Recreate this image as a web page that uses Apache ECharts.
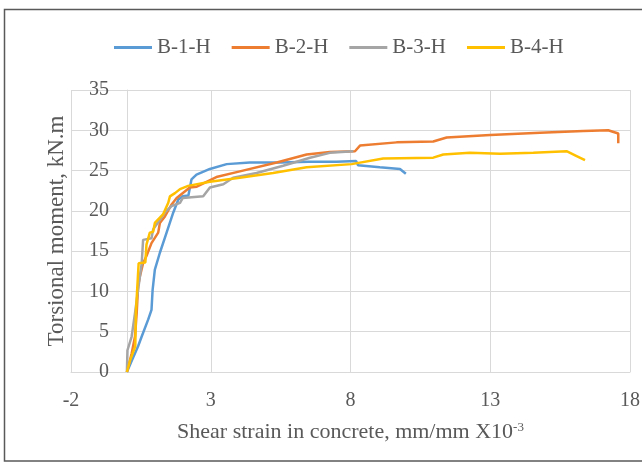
<!DOCTYPE html>
<html>
<head>
<meta charset="utf-8">
<script src="https://cdn.jsdelivr.net/npm/echarts@6/dist/echarts.min.js"></script>
<style>html,body{margin:0;padding:0;background:#fff;}#chart{width:642px;height:464px;}</style>
</head>
<body>
<div id="chart"></div>
<script>
var seriesNames = ['B-1-H', 'B-2-H', 'B-3-H', 'B-4-H'];
var xTickLabels = ['-2', '3', '8', '13', '18'];
var yTickLabels = ['0', '5', '10', '15', '20', '25', '30', '35'];

var b1X = [0, 0.2, 0.4, 0.53, 0.76, 0.88, 0.92, 1.0, 1.18, 1.42, 1.66, 1.84, 2.0, 2.2, 2.31, 2.49, 2.97, 3.57, 4.4, 5.5, 6.5, 7.5, 8.2, 8.27, 9.05, 9.77, 9.98];
var b1Y = [0, 1.6, 3.2, 4.4, 6.5, 7.7, 10.2, 12.7, 14.8, 17.3, 19.8, 21.4, 21.8, 21.9, 23.9, 24.5, 25.2, 25.8, 26.0, 26.0, 26.1, 26.1, 26.2, 25.65, 25.4, 25.2, 24.6];

var b2X = [0, 0.17, 0.29, 0.35, 0.4, 0.46, 0.58, 0.7, 0.88, 1.12, 1.18, 1.36, 1.6, 1.78, 2.25, 2.5, 3.2, 4.04, 5.36, 6.43, 7.26, 8.16, 8.34, 9.65, 10.96, 11.44, 13.0, 14.78, 16.33, 17.22, 17.58, 17.58];
var b2Y = [0, 2.3, 4.4, 7.3, 10.6, 11.8, 13.5, 14.4, 16.0, 17.3, 18.5, 19.3, 20.8, 21.6, 22.9, 23.0, 24.2, 24.9, 26.0, 27.0, 27.3, 27.4, 28.1, 28.5, 28.6, 29.1, 29.4, 29.7, 29.9, 30.0, 29.6, 28.4];

var b3X = [0, 0.02, 0.17, 0.29, 0.4, 0.53, 0.58, 0.88, 0.94, 1.18, 1.36, 1.6, 1.9, 2.0, 2.73, 2.97, 3.45, 3.8, 4.64, 5.59, 6.55, 7.26, 8.1];
var b3Y = [0, 2.7, 4.4, 7.3, 10.2, 13.5, 16.4, 16.6, 17.7, 18.9, 19.8, 20.6, 21.0, 21.6, 21.8, 22.9, 23.3, 24.1, 24.7, 25.6, 26.6, 27.2, 27.4];

var b4X = [0, 0.12, 0.3, 0.32, 0.38, 0.42, 0.66, 0.7, 0.82, 0.94, 1.0, 1.3, 1.48, 1.54, 1.72, 1.9, 2.19, 2.97, 4.04, 5.23, 6.43, 8.04, 9.17, 10.96, 11.32, 12.27, 13.35, 14.54, 15.73, 16.09, 16.39];
var b4Y = [0, 1.5, 3.2, 7.3, 7.5, 13.5, 13.6, 15.8, 17.3, 17.4, 18.5, 19.6, 21.0, 21.8, 22.2, 22.7, 23.1, 23.6, 24.1, 24.7, 25.4, 25.8, 26.5, 26.6, 27.0, 27.2, 27.1, 27.2, 27.4, 26.8, 26.3];

var colors = ['#5B9BD5', '#ED7D31', '#A5A5A5', '#FFC000'];
var allX = [b1X, b2X, b3X, b4X];
var allY = [b1Y, b2Y, b3Y, b4Y];

function zip(xs, ys) {
  var out = [];
  for (var i = 0; i < xs.length; i++) out.push([xs[i], ys[i]]);
  return out;
}

var FONT = 'Liberation Serif';
var TXT = '#595959';
var GRID = '#d9d9d9';

var gridLeft = 71, gridRight = 12;
var xMin = -2, xMax = 18;
// shift the value axis so it sits at x = 0 (like Excel's crossing)
var yAxisOffset = -((0 - xMin) / (xMax - xMin)) * (642 - gridLeft - gridRight);

var series = seriesNames.map(function (n, i) {
  return {
    name: n,
    type: 'line',
    data: zip(allX[i], allY[i]),
    symbol: 'none',
    smooth: false,
    lineStyle: { color: colors[i], width: 2.5 },
    itemStyle: { color: colors[i] },
    z: 2 + i
  };
});

var chart = echarts.init(document.getElementById('chart'), null, { renderer: 'canvas' });
chart.setOption({
  animation: false,
  backgroundColor: '#fff',
  color: colors,
  graphic: [{
    type: 'rect',
    shape: { x: 4.5, y: 9.5, width: 660, height: 451.5 },
    style: { fill: 'none', stroke: '#595959', lineWidth: 1.5 },
    silent: true, z: 100
  }],
  legend: {
    data: seriesNames,
    left: 114,
    top: 37,
    padding: 0,
    icon: 'rect',
    itemWidth: 38,
    itemHeight: 3,
    itemGap: 21,
    textStyle: { color: TXT, fontFamily: FONT, fontSize: 21 }
  },
  grid: { left: gridLeft, right: gridRight, top: 90, bottom: 92, containLabel: false, outerBoundsMode: 'none' },
  xAxis: {
    type: 'value',
    min: xMin, max: xMax, interval: 5,
    name: 'Shear strain in concrete, mm/mm X10{sup|-3}',
    nameLocation: 'middle',
    nameGap: 49,
    nameTextStyle: {
      color: TXT, fontFamily: FONT, fontSize: 22,
      rich: { sup: { color: TXT, fontFamily: FONT, fontSize: 13, verticalAlign: 'top', lineHeight: 12 } }
    },
    axisLine: { show: true, onZero: false, lineStyle: { color: GRID, width: 1 } },
    axisTick: { show: false },
    splitLine: { show: true, lineStyle: { color: GRID, width: 1 } },
    axisLabel: {
      color: TXT, fontFamily: FONT, fontSize: 20, margin: 19,
      formatter: function (v) { var i = xTickLabels.indexOf(String(v)); return i >= 0 ? xTickLabels[i] : ''; }
    }
  },
  yAxis: {
    type: 'value',
    position: 'left',
    offset: yAxisOffset,
    min: 0, max: 35, interval: 5,
    name: 'Torsional moment, kN.m',
    nameLocation: 'middle',
    nameGap: 58,
    nameRotate: 90,
    nameTextStyle: { color: TXT, fontFamily: FONT, fontSize: 23 },
    axisLine: { show: true, onZero: false, lineStyle: { color: GRID, width: 1 } },
    axisTick: { show: false },
    splitLine: { show: true, lineStyle: { color: GRID, width: 1 } },
    axisLabel: {
      color: TXT, fontFamily: FONT, fontSize: 20, margin: 18,
      formatter: function (v) { var i = yTickLabels.indexOf(String(v)); return i >= 0 ? yTickLabels[i] : ''; }
    }
  },
  series: series
});
</script>
</body>
</html>
